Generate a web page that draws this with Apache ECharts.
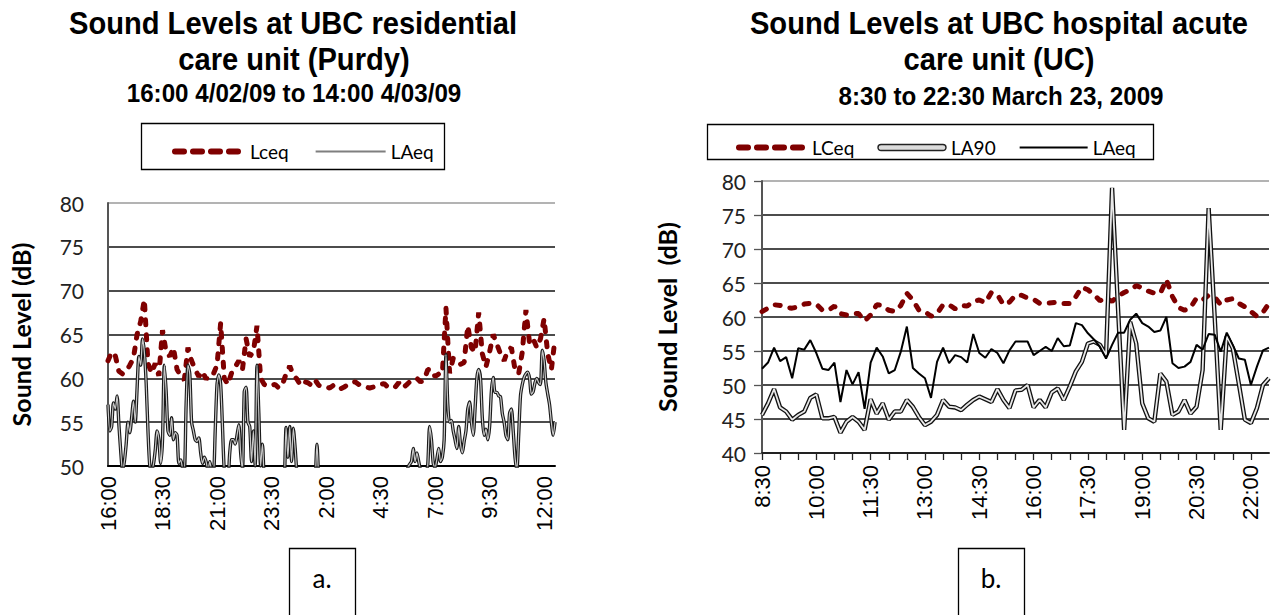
<!DOCTYPE html>
<html><head><meta charset="utf-8">
<script src="https://cdn.jsdelivr.net/npm/echarts@6/dist/echarts.min.js"></script>
<style>html,body{margin:0;padding:0;background:#fff}#c{width:1272px;height:615px}</style>
</head><body><div id="c"></div>
<script>
// ---------- Chart a: UBC residential care unit (Purdy), minutes from 16:00 ----------
const xTicksA = ['16:00','18:30','21:00','23:30','2:00','4:30','7:00','9:30','12:00'];
const stepLceqA = 10;   // minutes between Lceq samples
const stepLAeqA = 5;    // minutes between LAeq samples
const lceqA = [
 62.0,63.0,62.6,60.8,60.5,60.8,61.5,62.3,65.0,66.5,
 69.0,61.7,60.6,61.7,60.3,65.5,63.0,62.5,63.5,61.0,
 60.3,59.8,63.5,62.0,61.0,60.2,60.8,59.9,60.5,60.5,
 61.5,66.3,60.0,59.3,60.6,61.3,62.0,61.0,64.5,62.5,
 63.0,66.0,60.0,59.3,59.1,59.2,59.3,58.9,59.3,60.5,
 61.4,60.4,59.9,59.2,59.6,59.5,59.2,59.8,59.2,59.0,
 59.0,58.9,59.2,58.8,58.8,59.0,59.3,59.5,59.6,59.3,
 59.1,59.0,58.9,59.0,59.1,59.3,59.4,59.0,58.9,59.0,
 59.5,58.9,59.2,59.6,59.7,60.0,59.6,59.8,61.0,61.0,
 60.2,60.5,60.5,68.0,60.6,62.3,61.8,61.6,61.8,66.0,
 63.5,63.0,67.5,62.8,61.3,63.0,65.0,63.9,62.8,62.0,
 63.2,63.5,61.0,60.5,63.0,67.8,64.0,64.5,63.5,64.5,
 66.8,62.8,61.0,64.5
];
const laeqA = [
 57.0,54.0,54.5,57.2,56.5,58.0,54.7,51.7,49.5,50.5,
 52.5,55.0,53.8,55.5,57.4,55.0,58.8,62.5,61.5,64.5,
 63.0,59.5,54.0,50.0,49.5,50.2,51.8,54.0,53.0,50.3,
 53.0,61.5,58.5,54.0,53.5,55.5,53.0,53.8,53.5,50.3,
 50.7,49.8,49.5,57.0,61.5,60.5,55.0,54.0,53.0,52.8,
 53.2,51.5,50.3,51.0,50.5,49.5,50.5,49.5,49.0,54.0,
 59.3,60.4,59.3,54.5,49.5,49.0,48.5,51.5,53.0,53.0,
 52.5,53.5,54.7,51.5,49.5,58.5,59.0,55.0,54.5,50.5,
 54.0,50.0,61.5,56.0,50.0,52.5,48.5,47.5,47.0,47.5,
 47.0,46.5,47.0,47.5,47.0,46.5,47.0,48.0,54.4,51.0,
 54.5,50.5,54.3,52.0,49.0,47.5,47.0,46.5,47.0,47.5,
 47.0,47.0,46.5,47.5,48.5,52.5,48.5,47.0,46.5,46.0,
 46.0,45.5,46.0,46.5,46.0,45.5,46.0,46.0,45.5,46.0,
 46.5,46.0,45.5,46.0,46.0,46.5,46.0,45.5,46.0,46.5,
 46.0,46.5,47.0,46.5,46.0,46.5,47.0,47.5,47.0,47.5,
 48.0,47.5,48.0,48.5,48.0,48.5,49.0,48.5,49.0,49.5,
 49.5,48.0,48.5,49.0,48.5,49.8,50.2,50.5,52.0,50.5,
 51.5,50.5,49.5,48.5,48.0,49.0,50.2,54.5,53.0,50.3,
 49.8,50.8,52.0,50.5,51.0,53.0,62.7,57.0,55.0,55.2,
 54.0,53.0,52.0,54.5,52.5,51.5,52.8,54.0,56.5,57.3,
 55.0,53.5,56.5,60.0,61.0,60.0,55.5,53.5,54.2,53.0,
 54.5,58.5,60.1,58.4,58.4,58.0,57.9,56.0,55.0,53.5,
 53.0,56.0,56.5,54.0,51.0,49.5,53.5,58.0,59.3,60.1,
 60.5,60.7,60.0,58.2,58.5,59.5,60.0,59.5,59.3,63.2,
 62.0,59.5,58.2,57.0,55.0,53.5,55.0
];

// ---------- Chart b: UBC hospital acute care unit (UC), minutes from 8:30 ----------
const xTicksB = ['8:30','10:00','11:30','13:00','14:30','16:00','17:30','19:00','20:30','22:00'];
const stepB = 10;
const lceqB = [
 60.8,61.3,61.8,61.7,61.4,61.3,61.5,61.9,62.0,61.9,
 61.0,61.0,61.6,60.5,60.3,60.5,60.5,59.4,60.3,61.8,
 61.7,61.0,60.8,61.7,63.5,62.5,61.0,60.8,60.1,60.5,
 61.8,61.8,61.2,61.7,61.6,62.3,62.5,62.1,63.6,63.3,
 61.8,62.2,63.2,63.2,62.8,62.6,62.0,62.0,62.1,62.2,
 62.0,62.0,63.0,64.4,64.0,63.3,62.4,62.8,62.3,63.1,
 63.6,64.0,64.6,64.3,63.8,63.5,63.5,65.5,63.0,61.4,
 61.0,61.4,62.8,62.5,63.2,62.9,61.8,62.5,62.7,62.0,
 61.5,60.8,60.1,60.7,62.0
];
const la90B = [
 45.6,47.3,49.4,46.7,46.1,44.9,45.6,46.1,48.1,48.6,
 45.1,45.1,45.3,43.0,44.6,45.3,44.6,43.4,47.9,45.8,
 47.3,44.9,46.1,46.1,47.8,46.8,45.3,44.1,44.6,45.6,
 47.8,46.8,46.7,46.3,47.1,47.8,48.3,47.9,47.5,49.4,
 47.8,46.6,49.2,49.3,50.0,46.7,47.8,46.7,48.9,49.5,
 47.8,49.8,52.0,53.4,56.1,56.4,55.9,54.4,79.0,61.0,
 43.4,59.3,56.1,47.3,45.1,44.6,51.7,50.5,45.6,46.1,
 47.8,45.8,46.8,52.2,76.0,60.0,43.4,57.2,55.4,50.2,
 44.9,44.4,46.6,50.0,51.0
];
const laeqB = [
 52.4,53.3,55.5,53.5,54.1,51.0,55.4,55.2,56.6,54.7,
 52.4,52.2,53.3,47.5,52.2,50.1,51.9,46.5,53.3,55.5,
 54.2,51.7,52.2,54.9,58.6,52.5,51.7,51.0,48.1,53.4,
 55.5,53.2,54.4,54.1,53.3,57.5,54.7,54.0,55.3,54.7,
 53.2,55.1,56.4,56.4,56.4,54.4,55.0,55.6,55.0,56.9,
 55.7,55.8,59.1,58.8,57.6,56.7,55.6,53.9,55.9,57.7,
 57.7,59.6,60.5,59.1,58.6,57.8,58.0,60.0,53.2,52.5,
 52.7,53.4,55.9,55.2,57.5,57.4,54.9,57.7,55.9,53.9,
 53.7,50.0,52.7,55.1,55.5
];

const pairs = (arr, step) => arr.map((v, i) => [i * step, v]);

const RED = '#7f0000';
const tickFont = 'Lato';
const chart = echarts.init(document.getElementById('c'), null, {renderer: 'svg'});

const gridLineColors = n => { const a = []; for (let i = 0; i < n - 1; i++) a.push('#111'); a.push('#9a9a9a'); return a; };

const dashStyle = {color: RED, width: 5, type: [5, 10], cap: 'round'};
const hiddenSymbol = {color: 'rgba(0,0,0,0)', borderWidth: 0, opacity: 0};
const legendDash = {color: RED, width: 6, type: [9, 9], cap: 'round'};

chart.setOption({
  animation: false,
  backgroundColor: '#fff',
  grid: [
    {left: 108, top: 203, width: 447, height: 263, containLabel: false, outerBoundsMode: 'none'},
    {left: 762, top: 181, width: 507, height: 272, containLabel: false, outerBoundsMode: 'none'}
  ],
  xAxis: [
    {
      type: 'value', gridIndex: 0, min: 0, max: 1230, interval: 150,
      axisLine: {show: true, onZero: false, lineStyle: {color: '#000', width: 2}},
      axisTick: {show: false},
      splitLine: {show: false},
      axisLabel: {
        rotate: 90, margin: 10, showMaxLabel: false,
        fontFamily: 'Liberation Sans', fontSize: 22, color: '#000',
        formatter: v => (v % 150 === 0 && xTicksA[v / 150]) ? xTicksA[v / 150] : ''
      }
    },
    {
      type: 'value', gridIndex: 1, min: 0, max: 840, interval: 30,
      axisLine: {show: true, onZero: false, lineStyle: {color: '#222', width: 2}},
      axisTick: {show: true, length: 7, lineStyle: {color: '#222', width: 1.3}},
      splitLine: {show: false},
      axisLabel: {
        rotate: 90, margin: 12, showMaxLabel: false,
        fontFamily: 'Liberation Sans', fontSize: 22, color: '#000',
        formatter: v => (v % 90 === 0 && xTicksB[v / 90]) ? xTicksB[v / 90] : ''
      }
    }
  ],
  yAxis: [
    {
      type: 'value', gridIndex: 0, min: 50, max: 80, interval: 5,
      name: 'Sound Level (dB)', nameLocation: 'middle', nameGap: 75, nameRotate: 90,
      nameTextStyle: {fontFamily: 'Lato', fontWeight: 'bold', fontSize: 25, color: '#000'},
      axisLine: {show: true, lineStyle: {color: '#555', width: 2}},
      axisTick: {show: false},
      axisLabel: {fontFamily: tickFont, fontSize: 21, color: '#222', margin: 24},
      splitLine: {show: true, lineStyle: {color: gridLineColors(7), width: 1.5}}
    },
    {
      type: 'value', gridIndex: 1, min: 40, max: 80, interval: 5,
      name: 'Sound Level  (dB)', nameLocation: 'middle', nameGap: 83, nameRotate: 90,
      nameTextStyle: {fontFamily: 'Lato', fontWeight: 'bold', fontSize: 25, color: '#000'},
      axisLine: {show: true, lineStyle: {color: '#555', width: 2}},
      axisTick: {show: true, length: 8, lineStyle: {color: '#555', width: 1.3}},
      axisLabel: {fontFamily: tickFont, fontSize: 21, color: '#222', margin: 16},
      splitLine: {show: true, lineStyle: {color: gridLineColors(9), width: 1.5}}
    }
  ],
  legend: [
    {
      data: [
        {name: 'Lceq', itemStyle: hiddenSymbol, lineStyle: legendDash},
        {name: 'LAeq', itemStyle: hiddenSymbol, lineStyle: {color: '#7f7f7f', width: 2, type: 'solid'}}
      ],
      left: 167, top: 137, itemWidth: 70, itemHeight: 14, itemGap: 26,
      textStyle: {fontFamily: 'Lato', fontSize: 19, color: '#000'},
      selectedMode: false
    },
    {
      data: [
        {name: 'LCeq', itemStyle: hiddenSymbol, lineStyle: legendDash},
        {name: 'LA90', icon: 'path://M3,0 H64 A3,3 0 0 1 64,6 H3 A3,3 0 0 1 3,0 Z',
         itemStyle: {color: '#dcdcdc', borderColor: '#222', borderWidth: 1.4}},
        {name: 'LAeq ', itemStyle: hiddenSymbol, lineStyle: {color: '#000', width: 2, type: 'solid'}}
      ],
      left: 731, top: 133, itemWidth: 68, itemHeight: 14, itemGap: 23,
      textStyle: {fontFamily: 'Lato', fontSize: 19, color: '#000'},
      selectedMode: false
    }
  ],
  series: [
    {name: 'Lceq', type: 'line', xAxisIndex: 0, yAxisIndex: 0, symbol: 'none',
     data: pairs(lceqA, stepLceqA), lineStyle: dashStyle, itemStyle: {color: RED}},
    {name: 'LAeq', type: 'line', xAxisIndex: 0, yAxisIndex: 0, symbol: 'none', smooth: 0.25,
     data: pairs(laeqA, stepLAeqA), lineStyle: {color: '#1a1a1a', width: 3.4}, itemStyle: {color: '#1a1a1a'}},
    {name: 'LAeq inner', type: 'line', xAxisIndex: 0, yAxisIndex: 0, symbol: 'none', smooth: 0.25,
     data: pairs(laeqA, stepLAeqA), lineStyle: {color: '#c8c8c8', width: 1.2}, itemStyle: {color: '#c8c8c8'}},

    {name: 'LCeq', type: 'line', xAxisIndex: 1, yAxisIndex: 1, symbol: 'none',
     data: pairs(lceqB, stepB), lineStyle: dashStyle, itemStyle: {color: RED}},
    {name: 'LA90', type: 'line', xAxisIndex: 1, yAxisIndex: 1, symbol: 'none',
     data: pairs(la90B, stepB), lineStyle: {color: '#111', width: 4.4}, itemStyle: {color: '#dcdcdc'}},
    {name: 'LA90 inner', type: 'line', xAxisIndex: 1, yAxisIndex: 1, symbol: 'none',
     data: pairs(la90B, stepB), lineStyle: {color: '#e8e8e8', width: 1.8}, itemStyle: {color: '#e8e8e8'}},
    {name: 'LAeq ', type: 'line', xAxisIndex: 1, yAxisIndex: 1, symbol: 'none',
     data: pairs(laeqB, stepB), lineStyle: {color: '#000', width: 2}, itemStyle: {color: '#000'}}
  ],
  graphic: [
    {type: 'rect', shape: {x: 141.5, y: 123.5, width: 303, height: 46}, style: {fill: 'none', stroke: '#000', lineWidth: 1.3}},
    {type: 'rect', shape: {x: 707.5, y: 124.5, width: 446, height: 35}, style: {fill: 'none', stroke: '#000', lineWidth: 1.3}},
    {type: 'text', x: 293, y: 22, scaleX: 0.91, style: {text: 'Sound Levels at UBC residential', font: 'bold 32px "Liberation Sans"', fill: '#000', align: 'center', verticalAlign: 'middle', textAlign: 'center', textVerticalAlign: 'middle'}},
    {type: 'text', x: 294, y: 58, scaleX: 0.91, style: {text: 'care unit (Purdy)', font: 'bold 32px "Liberation Sans"', fill: '#000', align: 'center', verticalAlign: 'middle', textAlign: 'center', textVerticalAlign: 'middle'}},
    {type: 'text', x: 294, y: 93, scaleX: 0.93, style: {text: '16:00 4/02/09 to 14:00 4/03/09', font: 'bold 26px "Liberation Sans"', fill: '#000', align: 'center', verticalAlign: 'middle', textAlign: 'center', textVerticalAlign: 'middle'}},
    {type: 'text', x: 999, y: 22, scaleX: 0.91, style: {text: 'Sound Levels at UBC hospital acute', font: 'bold 32px "Liberation Sans"', fill: '#000', align: 'center', verticalAlign: 'middle', textAlign: 'center', textVerticalAlign: 'middle'}},
    {type: 'text', x: 999, y: 58, scaleX: 0.91, style: {text: 'care unit (UC)', font: 'bold 32px "Liberation Sans"', fill: '#000', align: 'center', verticalAlign: 'middle', textAlign: 'center', textVerticalAlign: 'middle'}},
    {type: 'text', x: 1001, y: 96, scaleX: 0.93, style: {text: '8:30 to 22:30 March 23, 2009', font: 'bold 26px "Liberation Sans"', fill: '#000', align: 'center', verticalAlign: 'middle', textAlign: 'center', textVerticalAlign: 'middle'}},
    {type: 'rect', shape: {x: 289.5, y: 548.5, width: 66, height: 72}, style: {fill: '#fff', stroke: '#000', lineWidth: 1.3}},
    {type: 'text', x: 322, y: 578, style: {text: 'a.', font: '26px Lato', fill: '#000', align: 'center', verticalAlign: 'middle', textAlign: 'center', textVerticalAlign: 'middle'}},
    {type: 'rect', shape: {x: 958.5, y: 548.5, width: 66, height: 72}, style: {fill: '#fff', stroke: '#000', lineWidth: 1.3}},
    {type: 'text', x: 991, y: 578, style: {text: 'b.', font: '26px Lato', fill: '#000', align: 'center', verticalAlign: 'middle', textAlign: 'center', textVerticalAlign: 'middle'}}
  ]
});
</script>
</body></html>
